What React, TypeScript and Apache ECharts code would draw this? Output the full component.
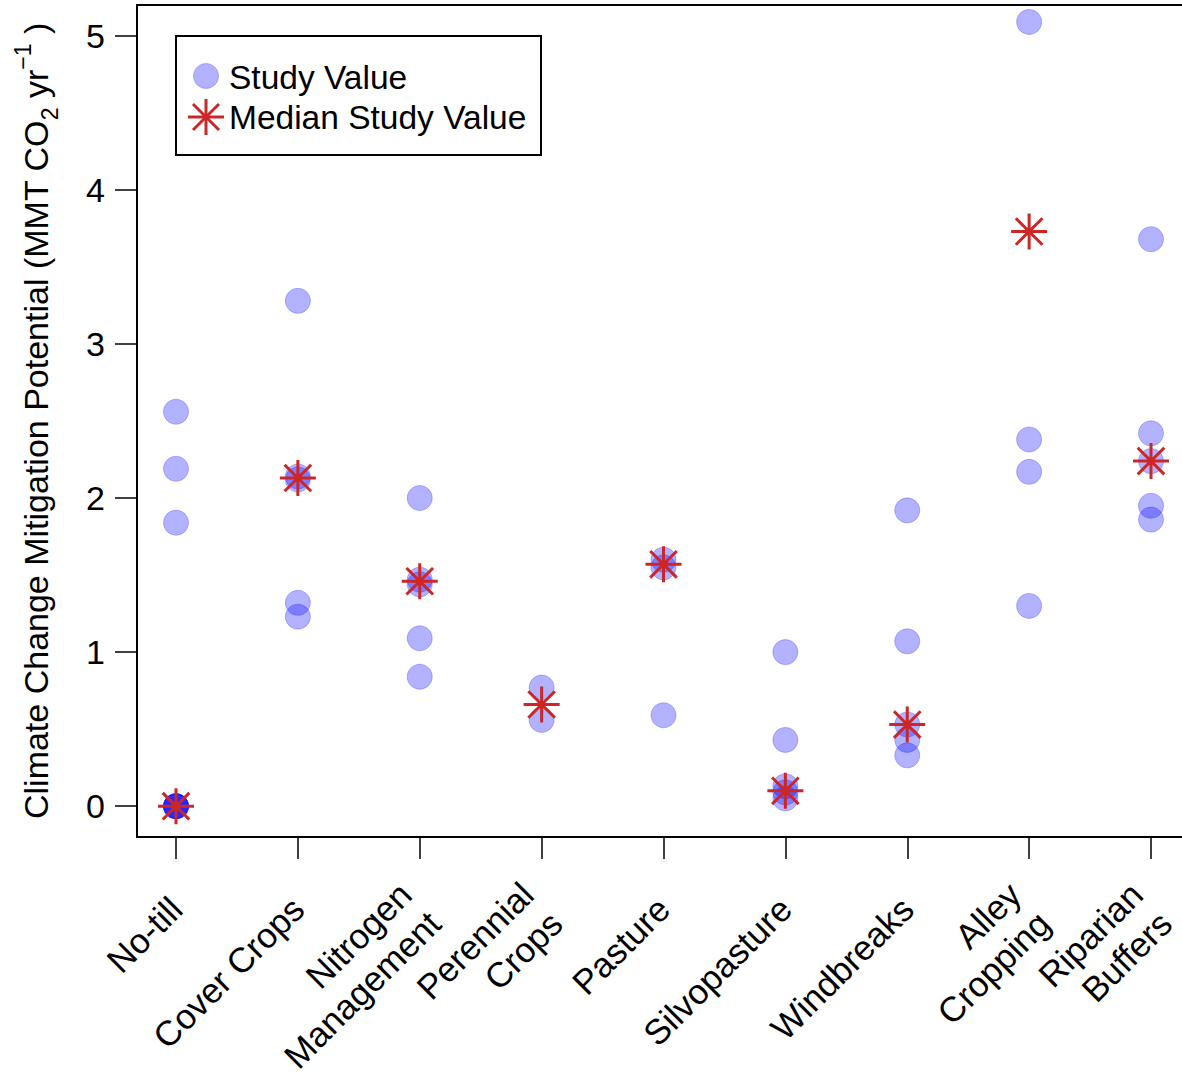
import { useEffect, useRef } from 'react';
import * as echarts from 'echarts';

const categories = [
  'No-till',
  'Cover Crops',
  'Nitrogen\nManagement',
  'Perennial\nCrops',
  'Pasture',
  'Silvopasture',
  'Windbreaks',
  'Alley\nCropping',
  'Riparian\nBuffers',
];

const noTill = [0, 0, 0, 0, 0, 1.84, 2.19, 2.56];
const coverCrops = [3.28, 2.14, 2.12, 1.32, 1.23];
const nitrogenManagement = [2.0, 1.47, 1.44, 1.09, 0.84];
const perennialCrops = [0.77, 0.56];
const pasture = [1.6, 1.55, 0.59];
const silvopasture = [1.0, 0.43, 0.13, 0.09, 0.05];
const windbreaks = [1.92, 1.07, 0.53, 0.43, 0.33];
const alleyCropping = [5.09, 2.38, 2.17, 1.3];
const riparianBuffers = [3.68, 2.42, 2.24, 1.95, 1.86];

const studyValues = [
  noTill,
  coverCrops,
  nitrogenManagement,
  perennialCrops,
  pasture,
  silvopasture,
  windbreaks,
  alleyCropping,
  riparianBuffers,
];

const medianValues = [0, 2.13, 1.46, 0.66, 1.57, 0.1, 0.53, 3.73, 2.24];

const yTicks = [0, 1, 2, 3, 4, 5];
const xTicks = [1, 2, 3, 4, 5, 6, 7, 8, 9];

const FONT = '"Liberation Sans", Arial, sans-serif';
const RED = '#CD2626';
const BLUE_FILL = 'rgba(0,0,255,0.3)';
const BLUE_EDGE = 'rgba(0,0,255,0.25)';
const STAR_PATH =
  'path://M0,18 L36,18 M18,0 L18,36 M4.7,4.7 L31.3,31.3 M31.3,4.7 L4.7,31.3';

export default function App() {
  const ref = useRef<HTMLDivElement>(null);

  useEffect(() => {
    document.body.style.margin = '0';
    if (!ref.current) return;
    const chart = echarts.init(ref.current, undefined, { renderer: 'svg' });

    const pointData: number[][] = [];
    studyValues.forEach((vals, i) => {
      vals.forEach((v) => pointData.push([i + 1, v]));
    });
    const medianData = medianValues.map((v, i) => [i + 1, v]);

    const lx = 206;
    const ly = 117;

    chart.setOption({
      animation: false,
      backgroundColor: '#fff',
      grid: {
        left: 137,
        top: 5,
        width: 1053,
        height: 832,
        show: true,
        borderColor: '#000',
        borderWidth: 2,
        containLabel: false,
        outerBoundsMode: 'none',
      },
      xAxis: {
        type: 'value',
        min: 0.68,
        max: 9.32,
        axisLine: { show: false, onZero: false },
        splitLine: { show: false },
        axisTick: {
          show: true,
          inside: false,
          length: 22,
          customValues: xTicks,
          lineStyle: { color: '#000', width: 1.5 },
        },
        axisLabel: {
          customValues: xTicks,
          rotate: 45,
          margin: 66,
          fontSize: 35,
          lineHeight: 41,
          color: '#000',
          fontFamily: FONT,
          formatter: (v: number) => categories[Math.round(v) - 1] ?? '',
        },
      },
      yAxis: {
        type: 'value',
        min: -0.2,
        max: 5.2,
        axisLine: { show: false, onZero: false },
        splitLine: { show: false },
        axisTick: {
          show: true,
          inside: false,
          length: 22,
          customValues: yTicks,
          lineStyle: { color: '#000', width: 1.5 },
        },
        axisLabel: {
          customValues: yTicks,
          margin: 32,
          fontSize: 34,
          color: '#000',
          fontFamily: FONT,
        },
        name: 'Climate Change Mitigation Potential (MMT CO{sub|2} yr{sup|−1} )',
        nameLocation: 'middle',
        nameRotate: 90,
        nameGap: 76,
        nameMoveOverlap: false,
        nameTextStyle: {
          fontSize: 34,
          lineHeight: 50,
          color: '#000',
          fontFamily: FONT,
          rich: {
            sub: {
              fontSize: 23,
              lineHeight: 30,
              verticalAlign: 'bottom',
              color: '#000',
              fontFamily: FONT,
            },
            sup: {
              fontSize: 23,
              lineHeight: 14,
              verticalAlign: 'top',
              color: '#000',
              fontFamily: FONT,
            },
          },
        },
      },
      series: [
        {
          name: 'Study Value',
          type: 'scatter',
          symbol: 'circle',
          symbolSize: 25,
          data: pointData,
          itemStyle: { color: BLUE_FILL, borderColor: BLUE_EDGE, borderWidth: 1, opacity: 1 },
          z: 2,
        },
        {
          name: 'Median Study Value',
          type: 'scatter',
          symbol: STAR_PATH,
          symbolSize: 36,
          data: medianData,
          itemStyle: { color: 'transparent', borderColor: RED, borderWidth: 3, opacity: 1 },
          z: 3,
        },
      ],
      graphic: [
        {
          type: 'rect',
          shape: { x: 176, y: 36, width: 365, height: 119 },
          style: { fill: '#fff', stroke: '#000', lineWidth: 2 },
          z: 10,
        },
        {
          type: 'circle',
          shape: { cx: lx, cy: 76, r: 12.5 },
          style: { fill: BLUE_FILL, stroke: BLUE_EDGE, lineWidth: 1 },
          z: 11,
        },
        {
          type: 'line',
          shape: { x1: lx - 18, y1: ly, x2: lx + 18, y2: ly },
          style: { stroke: RED, lineWidth: 3 },
          z: 11,
        },
        {
          type: 'line',
          shape: { x1: lx, y1: ly - 18, x2: lx, y2: ly + 18 },
          style: { stroke: RED, lineWidth: 3 },
          z: 11,
        },
        {
          type: 'line',
          shape: { x1: lx - 13, y1: ly - 13, x2: lx + 13, y2: ly + 13 },
          style: { stroke: RED, lineWidth: 3 },
          z: 11,
        },
        {
          type: 'line',
          shape: { x1: lx + 13, y1: ly - 13, x2: lx - 13, y2: ly + 13 },
          style: { stroke: RED, lineWidth: 3 },
          z: 11,
        },
        {
          type: 'text',
          x: 229,
          y: 77,
          style: {
            text: 'Study Value',
            fill: '#000',
            fontSize: 33.5,
            fontFamily: FONT,
            align: 'left',
            verticalAlign: 'middle',
          },
          z: 11,
        },
        {
          type: 'text',
          x: 229,
          y: 117,
          style: {
            text: 'Median Study Value',
            fill: '#000',
            fontSize: 33.5,
            fontFamily: FONT,
            align: 'left',
            verticalAlign: 'middle',
          },
          z: 11,
        },
      ],
    });

    return () => {
      chart.dispose();
    };
  }, []);

  return <div ref={ref} style={{ width: 1182, height: 1084 }} />;
}
